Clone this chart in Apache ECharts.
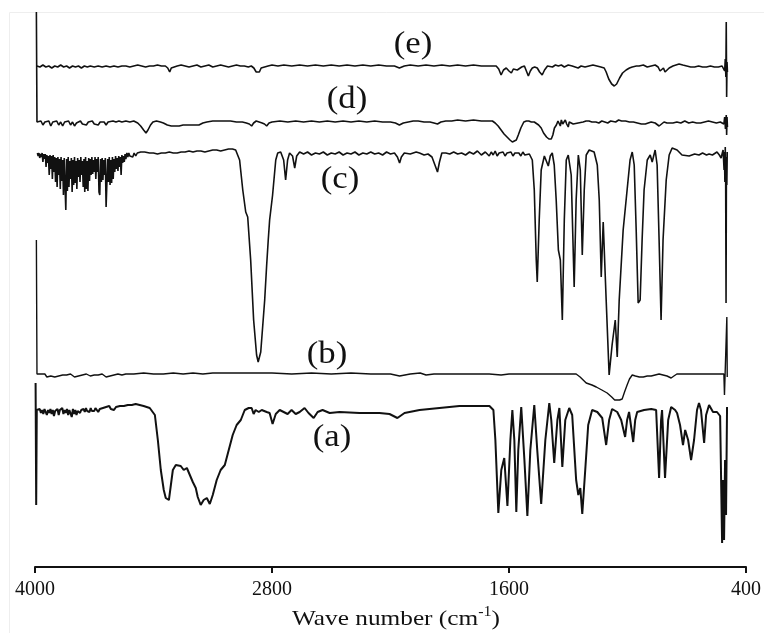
<!DOCTYPE html>
<html>
<head>
<meta charset="utf-8">
<script src="https://cdn.jsdelivr.net/npm/echarts/dist/echarts.min.js"></script>
<style>
html,body{margin:0;padding:0;background:#fff;}
#chart{width:764px;height:633px;}
</style>
</head>
<body>
<div id="chart"></div>
<script>
// FTIR spectra: [wavenumber (cm-1), transmittance (a.u., stacked)]
const xTicks = [4000, 2800, 1600, 400];
const xTitle = 'Wave number';
const traceLabels = ['(a)', '(b)', '(c)', '(d)', '(e)'];

const traceE = [[3990,501],[3975,500],[3960,502],[3945,500],[3930,501],[3915,499],[3900,501],[3885,500],[3870,502],[3855,500],[3840,501],[3825,499],[3810,501],[3795,500],[3780,501],[3765,499],[3750,501],[3735,500],[3720,501],[3700,500],[3680,501],[3660,500],[3640,501],[3620,500],[3600,501],[3580,500],[3560,501],[3540,501],[3520,500],[3500,501],[3480,502],[3460,501],[3440,500],[3420,501],[3400,501],[3380,502],[3360,501],[3340,501],[3328,499],[3318,495],[3310,499],[3300,501],[3280,501],[3260,502],[3240,501],[3220,500],[3200,501],[3180,502],[3160,500],[3140,501],[3120,502],[3100,500],[3080,501],[3060,502],[3040,501],[3020,500],[3000,501],[2980,502],[2960,501],[2940,501],[2920,500],[2905,501],[2892,499],[2880,495],[2872,493],[2864,495],[2855,499],[2845,501],[2820,501],[2800,502],[2770,501],[2740,502],[2700,501],[2660,502],[2620,501],[2580,502],[2540,501],[2500,502],[2460,501],[2420,502],[2380,501],[2340,502],[2300,501],[2260,502],[2220,501],[2180,501],[2155,499],[2130,501],[2100,502],[2060,501],[2020,502],[1980,501],[1940,502],[1900,501],[1860,502],[1820,501],[1780,502],[1740,501],[1700,501],[1665,501],[1652,498],[1640,492],[1628,497],[1614,499],[1600,496],[1588,494],[1578,498],[1568,500],[1558,497],[1548,495],[1536,500],[1522,501],[1512,496],[1502,491],[1492,496],[1482,499],[1470,500],[1457,499],[1445,495],[1432,492],[1420,497],[1405,501],[1396,501],[1380,500],[1365,502],[1350,501],[1335,502],[1320,500],[1300,502],[1280,501],[1265,500],[1250,499],[1235,501],[1215,500],[1195,501],[1175,502],[1155,501],[1135,500],[1118,499],[1108,495],[1095,488],[1080,483],[1067,481],[1055,483],[1040,489],[1025,494],[1007,497],[990,499],[976,500],[955,501],[941,501],[920,502],[900,500],[880,501],[860,502],[845,500],[835,496],[826,494],[818,499],[810,495],[800,497],[789,499],[770,501],[739,503],[720,502],[700,501],[680,500],[660,500],[640,501],[620,500],[600,500],[580,501],[560,500],[540,500],[521,501],[512,503],[508,496],[505,508],[502,490],[500,545],[498,470],[496,505],[494,495]];

const traceD = [[3993,555],[3990,445],[3980,443],[3970,446],[3960,442],[3950,445],[3940,443],[3930,446],[3920,441],[3910,445],[3900,443],[3890,446],[3880,442],[3870,445],[3860,441],[3850,445],[3840,443],[3830,446],[3820,442],[3810,445],[3800,441],[3790,444],[3780,442],[3770,446],[3760,443],[3750,445],[3740,442],[3730,445],[3720,443],[3710,446],[3700,443],[3690,445],[3680,442],[3670,445],[3660,443],[3650,445],[3640,442],[3630,445],[3620,444],[3605,446],[3590,445],[3575,446],[3560,445],[3540,446],[3520,445],[3500,446],[3480,444],[3465,441],[3450,437],[3438,434],[3428,437],[3415,442],[3403,445],[3385,446],[3365,445],[3350,444],[3330,442],[3310,441],[3290,441],[3270,441],[3250,442],[3230,442],[3210,442],[3190,442],[3170,442],[3150,444],[3130,445],[3100,446],[3070,446],[3040,446],[3010,446],[2980,445],[2950,445],[2930,444],[2915,443],[2903,441],[2893,444],[2880,446],[2865,445],[2850,444],[2838,443],[2827,441],[2815,444],[2800,445],[2760,446],[2720,445],[2680,446],[2640,445],[2600,446],[2560,445],[2520,446],[2480,445],[2440,446],[2400,445],[2360,446],[2320,445],[2280,446],[2240,445],[2200,445],[2175,444],[2155,442],[2135,444],[2110,445],[2085,446],[2060,446],[2030,445],[2000,445],[1980,444],[1962,443],[1945,445],[1920,446],[1890,446],[1860,447],[1820,446],[1780,447],[1740,446],[1700,446],[1684,446],[1670,444],[1655,441],[1640,437],[1625,433],[1610,430],[1595,427],[1583,425],[1573,424],[1563,427],[1553,432],[1540,439],[1525,445],[1512,446],[1500,446],[1487,445],[1472,445],[1462,445],[1450,442],[1437,439],[1425,434],[1410,430],[1398,428],[1386,428],[1378,432],[1370,439],[1360,442],[1352,446],[1345,444],[1340,441],[1335,447],[1328,443],[1320,441],[1315,447],[1308,443],[1300,440],[1295,445],[1285,447],[1275,443],[1265,445],[1250,444],[1240,446],[1225,445],[1210,446],[1195,446],[1180,445],[1160,445],[1145,444],[1130,446],[1115,445],[1100,444],[1085,446],[1075,444],[1060,445],[1045,447],[1030,446],[1010,446],[990,445],[970,445],[950,444],[930,443],[910,443],[895,444],[880,445],[860,444],[850,442],[840,441],[830,443],[815,445],[800,444],[790,445],[770,444],[750,445],[730,444],[710,446],[690,444],[670,445],[650,444],[630,444],[610,445],[590,446],[570,445],[550,444],[530,445],[520,446],[512,443],[508,450],[504,438],[500,452],[498,432],[496,450],[494,440]];

const traceC = [[3988,414],[3984,411],[3980,414],[3976,409],[3972,413],[3968,410],[3964,414],[3960,405],[3956,413],[3952,408],[3948,413],[3944,400],[3940,412],[3936,404],[3932,411],[3928,392],[3924,412],[3920,398],[3916,411],[3912,388],[3908,412],[3904,395],[3900,410],[3896,385],[3892,409],[3888,380],[3884,410],[3880,392],[3876,408],[3872,378],[3868,410],[3864,386],[3860,407],[3856,372],[3852,409],[3848,382],[3844,357],[3840,408],[3836,376],[3832,410],[3828,380],[3824,406],[3820,388],[3816,409],[3812,375],[3808,407],[3804,382],[3800,410],[3796,384],[3792,406],[3788,378],[3784,409],[3780,390],[3776,407],[3772,385],[3768,410],[3764,392],[3760,406],[3756,380],[3752,408],[3748,375],[3744,410],[3740,378],[3736,406],[3732,376],[3728,409],[3724,386],[3720,408],[3716,392],[3712,410],[3708,393],[3704,407],[3700,395],[3696,410],[3692,388],[3688,408],[3684,395],[3680,410],[3676,375],[3672,372],[3668,408],[3664,385],[3660,409],[3656,387],[3652,407],[3648,392],[3644,409],[3640,360],[3636,362],[3632,408],[3628,385],[3624,410],[3620,382],[3616,407],[3612,384],[3608,410],[3604,388],[3600,408],[3596,395],[3592,411],[3588,398],[3584,409],[3580,396],[3576,411],[3572,400],[3568,410],[3564,392],[3560,412],[3556,404],[3552,411],[3548,405],[3544,413],[3540,408],[3535,414],[3530,410],[3525,414],[3520,411],[3512,413],[3505,410],[3498,414],[3490,411],[3482,414],[3475,412],[3465,415],[3455,413],[3445,415],[3435,413],[3420,414],[3400,414],[3380,413],[3360,414],[3340,414],[3320,415],[3300,414],[3280,414],[3260,415],[3240,415],[3220,416],[3200,415],[3180,416],[3160,416],[3140,415],[3120,416],[3100,417],[3080,417],[3060,416],[3040,417],[3020,418],[3000,418],[2984,417],[2964,407],[2948,377],[2933,355],[2923,350],[2908,307],[2893,247],[2878,212],[2870,205],[2857,215],[2847,217],[2837,267],[2827,302],[2819,327],[2812,347],[2797,372],[2781,407],[2771,414],[2756,415],[2741,407],[2731,387],[2721,407],[2711,414],[2696,411],[2685,399],[2675,411],[2660,415],[2640,413],[2620,415],[2600,412],[2580,414],[2560,413],[2540,415],[2520,412],[2500,414],[2480,413],[2460,415],[2440,412],[2420,414],[2400,413],[2380,415],[2360,412],[2340,414],[2320,413],[2300,415],[2280,413],[2260,414],[2240,412],[2220,415],[2200,413],[2180,414],[2165,410],[2154,404],[2145,410],[2130,414],[2100,413],[2070,415],[2053,414],[2030,412],[2010,413],[1990,410],[1975,402],[1962,395],[1952,405],[1940,414],[1920,414],[1900,413],[1880,415],[1860,413],[1840,414],[1820,412],[1800,415],[1780,413],[1760,416],[1740,412],[1720,415],[1700,411],[1690,415],[1680,412],[1670,416],[1660,411],[1650,414],[1640,412],[1630,415],[1620,411],[1610,414],[1600,412],[1590,415],[1580,411],[1570,414],[1560,412],[1550,414],[1540,411],[1530,415],[1520,412],[1510,414],[1497,413],[1482,407],[1472,377],[1462,307],[1457,285],[1447,347],[1437,397],[1421,411],[1411,409],[1401,401],[1391,411],[1381,414],[1371,402],[1361,367],[1350,317],[1340,307],[1330,247],[1320,347],[1310,407],[1300,412],[1285,392],[1270,280],[1260,367],[1249,412],[1239,397],[1229,312],[1219,377],[1209,412],[1194,417],[1169,415],[1153,402],[1143,367],[1133,290],[1123,345],[1108,267],[1093,192],[1078,222],[1062,247],[1052,210],[1042,267],[1022,337],[1002,377],[987,407],[976,415],[966,402],[956,337],[946,264],[936,267],[926,327],[916,377],[900,407],[885,412],[875,405],[860,417],[850,402],[840,327],[830,247],[820,327],[804,387],[789,412],[774,419],[749,417],[724,412],[688,411],[660,413],[638,412],[620,414],[600,412],[587,413],[570,412],[547,415],[535,412],[526,409],[520,414],[516,417],[513,405],[511,397],[509,415],[507,385],[505,420],[503,390],[501,264],[499,410],[497,382],[495,415]];

const traceB = [[3993,327],[3990,193],[3980,192],[3970,193],[3960,191],[3950,193],[3940,190],[3930,192],[3920,191],[3910,193],[3900,190],[3890,192],[3880,191],[3870,193],[3860,192],[3850,190],[3840,192],[3830,191],[3820,193],[3810,192],[3800,190],[3790,192],[3780,191],[3770,193],[3760,192],[3750,191],[3740,193],[3730,192],[3720,191],[3710,193],[3700,192],[3690,190],[3680,192],[3670,191],[3660,193],[3650,192],[3640,190],[3630,192],[3620,191],[3610,193],[3600,192],[3580,193],[3560,192],[3540,193],[3500,193],[3450,194],[3400,193],[3350,193],[3300,194],[3250,193],[3200,194],[3150,193],[3100,194],[3000,194],[2900,194],[2800,194],[2700,193],[2600,194],[2500,193],[2400,194],[2300,193],[2200,193],[2154,191],[2100,193],[2050,194],[2020,192],[1980,193],[1900,193],[1800,193],[1700,193],[1640,192],[1600,193],[1500,193],[1400,193],[1300,193],[1260,193],[1240,190],[1209,184],[1180,182],[1158,180],[1130,177],[1103,174],[1080,170],[1065,167],[1057,166],[1040,167],[1027,168],[1015,175],[1002,182],[990,188],[976,192],[960,191],[940,190],[920,190],[900,191],[880,191],[860,192],[840,193],[820,192],[800,191],[779,189],[765,191],[750,193],[720,193],[680,193],[640,193],[600,193],[560,193],[530,193],[512,193],[509,172],[503,170],[500,172],[497,250],[495,190]];

const traceA = [[3997,184],[3994,62],[3991,157],[3988,158],[3982,155],[3976,158],[3970,154],[3964,157],[3958,153],[3952,158],[3946,155],[3940,152],[3934,157],[3928,154],[3922,158],[3916,153],[3910,157],[3904,151],[3898,156],[3892,154],[3886,158],[3880,152],[3874,157],[3868,155],[3862,159],[3856,153],[3850,157],[3844,154],[3838,158],[3832,152],[3826,157],[3820,155],[3814,150],[3808,158],[3802,153],[3796,157],[3790,152],[3784,156],[3778,158],[3772,154],[3766,157],[3760,155],[3754,158],[3748,155],[3742,159],[3736,156],[3730,158],[3724,155],[3718,159],[3712,156],[3706,158],[3700,156],[3694,159],[3688,157],[3680,155],[3672,158],[3664,156],[3656,159],[3648,157],[3640,160],[3632,158],[3624,161],[3616,158],[3608,160],[3600,157],[3590,160],[3580,158],[3570,161],[3560,159],[3550,161],[3540,160],[3530,162],[3520,160],[3510,162],[3500,161],[3490,163],[3480,161],[3470,162],[3460,162],[3450,161],[3419,159],[3393,152],[3378,127],[3363,97],[3348,77],[3338,69],[3322,67],[3312,82],[3302,97],[3287,102],[3277,104],[3262,101],[3247,97],[3231,99],[3216,92],[3201,85],[3186,79],[3176,70],[3161,62],[3146,67],[3130,69],[3115,63],[3100,72],[3080,87],[3060,97],[3039,102],[3019,117],[2999,132],[2979,142],[2958,147],[2938,157],[2918,159],[2903,159],[2893,153],[2883,157],[2867,155],[2852,157],[2842,159],[2827,155],[2812,154],[2797,143],[2781,153],[2761,157],[2741,155],[2721,153],[2701,157],[2680,153],[2660,155],[2635,159],[2615,154],[2589,149],[2569,155],[2544,157],[2508,154],[2458,155],[2357,154],[2256,154],[2205,153],[2165,149],[2129,154],[2053,157],[1952,159],[1851,161],[1750,161],[1699,161],[1679,157],[1669,127],[1654,54],[1639,97],[1624,109],[1608,61],[1593,127],[1583,157],[1573,127],[1563,55],[1553,117],[1538,160],[1522,107],[1507,51],[1492,117],[1472,162],[1457,117],[1437,63],[1416,127],[1396,164],[1386,147],[1371,104],[1355,147],[1345,159],[1330,100],[1315,147],[1295,159],[1280,152],[1260,87],[1249,72],[1239,79],[1229,53],[1214,97],[1199,142],[1179,157],[1153,155],[1128,149],[1108,122],[1093,147],[1078,158],[1052,155],[1032,147],[1012,130],[1002,147],[992,155],[971,125],[961,147],[951,155],[916,157],[880,158],[855,157],[840,89],[830,147],[825,157],[810,89],[794,147],[779,160],[759,157],[749,154],[734,142],[719,122],[708,137],[693,127],[678,107],[663,127],[648,157],[638,164],[628,157],[612,124],[602,152],[587,162],[567,155],[547,155],[531,151],[521,24],[516,87],[511,27],[506,107],[501,52],[496,160]];

const chart = echarts.init(document.getElementById('chart'), null, {renderer: 'canvas'});
const serif = '"Liberation Serif", "Times New Roman", serif';
const mk = (name, data, w) => ({
  name, type: 'line', data, showSymbol: false, symbol: 'none', sampling: false,
  lineStyle: {color: '#111', width: w}, z: 3, silent: true
});
const labelPos = [[332,438],[327,355],[340,180],[347,100],[413,45]];
const graphics = traceLabels.map((t, i) => ({
  type: 'text', x: labelPos[i][0], y: labelPos[i][1], scaleX: 1.12, z: 10,
  style: {text: t, font: '31px ' + serif, fill: '#111', align: 'center', verticalAlign: 'middle'}
}));
graphics.push({
  type: 'text', x: 396, y: 618, scaleX: 1.15, z: 10,
  style: {
    text: '{n|' + xTitle + ' (cm}{s|-1}{n|)}',
    align: 'center', verticalAlign: 'middle',
    rich: {
      n: {fontFamily: serif, fontSize: 22, fill: '#111', color: '#111', lineHeight: 25, verticalAlign: 'bottom'},
      s: {fontFamily: serif, fontSize: 14, fill: '#111', color: '#111', lineHeight: 25, verticalAlign: 'top'}
    }
  }
});
graphics.push({type: 'line', shape: {x1: 9.5, y1: 12.5, x2: 764, y2: 12.5}, style: {stroke: '#eeeeee', lineWidth: 1}});
graphics.push({type: 'line', shape: {x1: 9.5, y1: 12.5, x2: 9.5, y2: 633}, style: {stroke: '#eeeeee', lineWidth: 1}});

chart.setOption({
  animation: false,
  backgroundColor: '#fff',
  grid: {left: 35, right: 17, top: 7, bottom: 66, containLabel: false},
  xAxis: {
    type: 'value', inverse: true, min: 400, max: 4000,
    axisLine: {show: true, lineStyle: {color: '#111', width: 2}},
    axisTick: {show: true, length: 6, inside: false, customValues: xTicks, lineStyle: {color: '#111', width: 2}},
    axisLabel: {customValues: xTicks, margin: 13, fontFamily: serif, fontSize: 20, color: '#111', formatter: v => String(v)},
    splitLine: {show: false}
  },
  yAxis: {type: 'value', min: 0, max: 560, show: false, splitLine: {show: false}},
  series: [
    mk('a', traceA, 2),
    mk('b', traceB, 1.4),
    mk('c', traceC, 1.6),
    mk('d', traceD, 1.6),
    mk('e', traceE, 1.6)
  ],
  graphic: graphics
});
</script>
</body>
</html>
